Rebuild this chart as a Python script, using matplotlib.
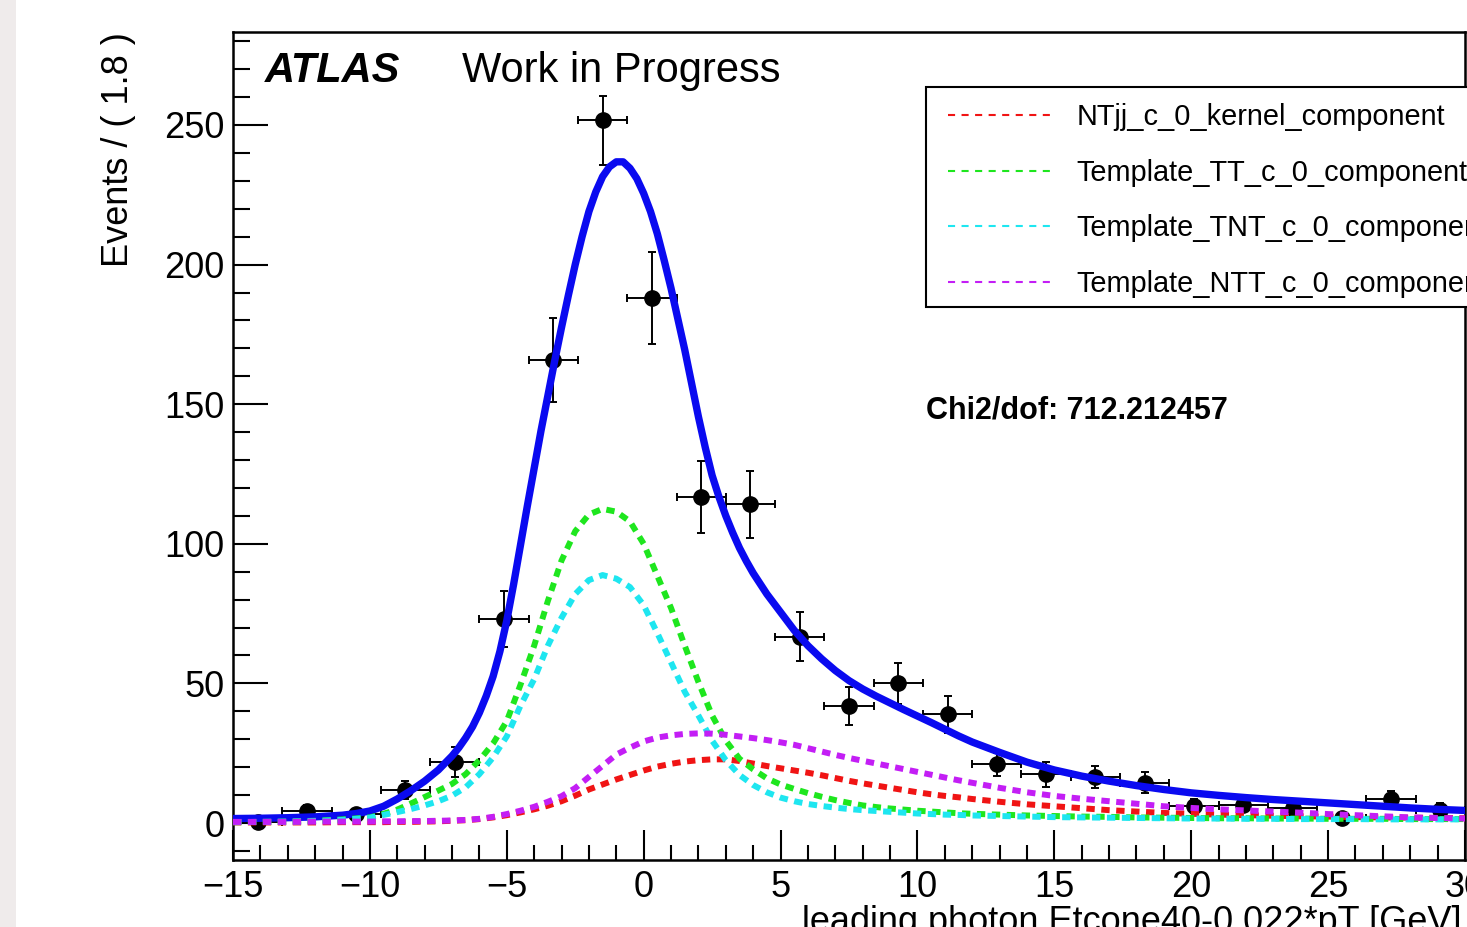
import matplotlib
matplotlib.use('Agg')
import matplotlib.pyplot as plt
from matplotlib.lines import Line2D
from matplotlib.patches import Rectangle
from matplotlib.ticker import MultipleLocator

plt.rcParams['font.family'] = ['Liberation Sans', 'DejaVu Sans']

# binned data (bin width 1.8)
bin_width = 1.8
bin_centers = [-14.1, -12.3, -10.5, -8.7, -6.9, -5.1, -3.3, -1.5, 0.3, 2.1, 3.9, 5.7,
               7.5, 9.3, 11.1, 12.9, 14.7, 16.5, 18.3, 20.1, 21.9, 23.7, 25.5, 27.3, 29.1]
events = [0.3, 4.3, 3.1, 11.8, 22.0, 73.1, 165.8, 251.8, 187.9, 116.8, 114.1, 66.7,
          41.9, 50.0, 39.0, 21.0, 17.5, 16.4, 14.4, 6.2, 6.4, 5.2, 1.7, 8.5, 4.6]
err_lo = [1.0, 2.0, 1.8, 3.3, 5.4, 9.9, 14.9, 16.0, 16.5, 12.8, 12.1, 8.7,
          6.7, 7.3, 6.6, 4.0, 4.5, 4.0, 3.8, 2.5, 2.5, 2.3, 1.5, 3.0, 2.5]
err_hi = [1.0, 2.0, 1.8, 3.3, 5.4, 9.9, 14.9, 8.6, 16.5, 12.8, 12.1, 8.7,
          6.7, 7.3, 6.6, 4.0, 4.5, 4.0, 3.8, 2.5, 2.5, 2.3, 1.5, 3.0, 2.5]

# total fit, sampled more finely around the peak
x_total = [-15, -14, -13, -12, -11, -10.5, -10, -9.5, -9, -8.5, -8, -7.5, -7, -6.75, -6.5, -6.25,
           -6, -5.75, -5.5, -5.25, -5, -4.75, -4.5, -4.25, -4, -3.75, -3.5, -3.25, -3, -2.75, -2.5, -2.25,
           -2, -1.75, -1.5, -1.25, -1, -0.75, -0.5, -0.25, 0, 0.25, 0.5, 0.75, 1, 1.25, 1.5, 1.75,
           2, 2.25, 2.5, 2.75, 3, 3.25, 3.5, 3.75, 4, 4.5, 5, 5.5, 6, 6.5, 7, 7.5, 8, 8.5, 9, 9.5,
           10, 10.5, 11, 11.5, 12, 13, 14, 15, 16, 17, 18, 19, 20, 21, 22, 23, 24, 25, 26, 27, 28, 29, 30]
total_fit = [1.6, 1.7, 1.9, 2.2, 2.8, 3.4, 4.3, 6.0, 8.6, 11.6, 15.0, 19.0, 24.0, 27.0, 30.5, 34.5,
             39.5, 45.5, 52.5, 61.5, 72.5, 85.5, 99.5, 113.5, 127.0, 140.5, 153.0, 165.5, 177.5, 189.0, 200.0, 210.0,
             219.0, 226.0, 231.5, 235.0, 236.8, 236.8, 234.5, 230.8, 225.5, 219.0, 211.0, 201.5, 191.5, 180.5, 169.5, 157.5,
             145.5, 134.5, 124.5, 116.8, 110.0, 104.0, 98.5, 93.8, 89.5, 82.0, 75.5, 69.0, 63.5, 58.8, 54.6, 51.0, 48.0, 45.4, 43.0, 40.6,
             38.3, 36.0, 33.6, 31.2, 29.0, 25.3, 21.8, 19.0, 16.8, 15.0, 13.4, 12.0, 10.8, 9.9, 9.1, 8.4, 7.8, 7.2, 6.6, 6.0, 5.4, 4.9, 4.5]

# fit components
x_fit = [-15, -14, -13, -12, -11, -10, -9.5, -9, -8.5, -8, -7.5, -7, -6.5, -6, -5.5, -5,
         -4.5, -4, -3.5, -3, -2.5, -2, -1.5, -1, -0.5, 0, 0.5, 1, 1.5, 2, 2.5, 3,
         3.5, 4, 4.5, 5, 5.5, 6, 6.5, 7, 7.5, 8, 8.5, 9, 9.5, 10, 10.5, 11, 11.5, 12,
         13, 14, 15, 16, 17, 18, 19, 20, 21, 22, 23, 24, 25, 26, 27, 28, 29, 30]
ntjj_kernel = [0.2, 0.2, 0.2, 0.2, 0.3, 0.3, 0.3, 0.4, 0.4, 0.5, 0.6, 0.8, 1.0, 1.4, 2.0, 2.8,
               3.8, 4.9, 6.2, 7.8, 9.8, 12.0, 13.8, 15.6, 17.2, 18.8, 20.2, 21.2, 22.0, 22.5, 22.8, 22.8,
               22.2, 21.3, 20.4, 19.6, 18.8, 18.0, 17.1, 16.1, 15.1, 14.2, 13.4, 12.6, 11.8, 11.0, 10.3, 9.7, 9.2, 8.6,
               7.6, 6.7, 6.0, 5.3, 4.6, 4.1, 3.6, 3.3, 3.0, 2.8, 2.6, 2.4, 2.3, 2.1, 2.0, 1.9, 1.8, 1.7]
template_tt = [0.3, 0.4, 0.5, 0.8, 1.3, 2.0, 3.3, 4.8, 7.0, 9.3, 11.6, 14.0, 17.5, 22.5, 28.5, 36.5,
               49.5, 63.5, 79.5, 94.0, 104.5, 110.5, 112.5, 111.5, 108.0, 100.0, 88.5, 77.0, 63.5, 50.5, 38.5, 29.5,
               23.0, 19.2, 16.0, 13.8, 12.2, 10.7, 9.4, 8.2, 7.2, 6.3, 5.7, 5.2, 4.8, 4.4, 4.1, 3.8, 3.5, 3.3,
               3.0, 2.7, 2.5, 2.3, 2.2, 2.0, 1.9, 1.8, 1.7, 1.7, 1.6, 1.6, 1.5, 1.5, 1.5, 1.4, 1.4, 1.4]
template_tnt = [0.3, 0.4, 0.5, 0.7, 1.1, 1.9, 2.9, 3.9, 5.0, 6.3, 7.8, 9.8, 12.8, 17.5, 23.5, 31.0,
                42.0, 51.5, 63.5, 73.5, 82.0, 87.0, 88.8, 87.5, 84.5, 78.0, 68.0, 57.5, 47.0, 38.5, 29.5, 22.5,
                17.2, 13.6, 11.0, 9.1, 7.8, 6.8, 6.1, 5.5, 5.0, 4.6, 4.3, 4.0, 3.7, 3.4, 3.2, 3.0, 2.9, 2.7,
                2.5, 2.3, 2.1, 2.0, 1.9, 1.8, 1.7, 1.6, 1.6, 1.5, 1.5, 1.4, 1.4, 1.4, 1.3, 1.3, 1.3, 1.3]
template_ntt = [0.4, 0.4, 0.4, 0.5, 0.5, 0.5, 0.6, 0.6, 0.7, 0.7, 0.8, 0.9, 1.1, 1.5, 2.2, 3.2,
                4.4, 5.8, 7.6, 9.6, 12.5, 16.5, 20.5, 24.5, 27.0, 29.2, 30.6, 31.4, 31.9, 32.1, 32.0, 31.6,
                31.0, 30.4, 29.7, 28.9, 28.0, 26.8, 25.6, 24.4, 23.3, 22.3, 21.3, 20.3, 19.3, 18.3, 17.3, 16.3, 15.3, 14.4,
                12.6, 11.0, 9.7, 8.7, 7.8, 6.9, 6.0, 5.4, 4.9, 4.5, 4.1, 3.7, 3.2, 2.8, 2.4, 2.0, 1.8, 1.6]

components = [
    (ntjj_kernel, '#f01414', 'NTjj_c_0_kernel_component'),
    (template_tt, '#1ee61e', 'Template_TT_c_0_component'),
    (template_tnt, '#1ee6f0', 'Template_TNT_c_0_component'),
    (template_ntt, '#c31ef5', 'Template_NTT_c_0_component'),
]

fig = plt.figure(figsize=(14.67, 9.27), dpi=100)
ax = fig.add_axes([233 / 1467, 1 - 860 / 927, 1232 / 1467, 828 / 927])

# light strip along the left edge
fig.patches.append(Rectangle((0, 0), 16 / 1467, 1, transform=fig.transFigure,
                             facecolor='#efebeb', edgecolor='none', zorder=0))

ax.errorbar(bin_centers, events, xerr=bin_width / 2, yerr=[err_lo, err_hi],
            fmt='o', color='black', ms=11, elinewidth=1.4, capsize=3.2, capthick=1.4, zorder=2)

ax.plot(x_total, total_fit, color='#0a0af0', lw=5.3, solid_joinstyle='round', zorder=3)
for values, color, label in components:
    ax.plot(x_fit, values, color=color, lw=4.3, dashes=(1.4, 1.1), zorder=4)

ax.set_xlim(-15, 30)
ax.set_ylim(-13.25, 283.3)

ax.xaxis.set_major_locator(MultipleLocator(5))
ax.xaxis.set_minor_locator(MultipleLocator(1))
ax.yaxis.set_major_locator(MultipleLocator(50))
ax.yaxis.set_minor_locator(MultipleLocator(10))
ax.tick_params(axis='x', which='major', direction='in', length=21.6, width=1.5, labelsize=26, pad=7)
ax.tick_params(axis='x', which='minor', direction='in', length=10.8, width=1.5)
ax.tick_params(axis='y', which='major', direction='in', length=25, width=1.5, labelsize=26, pad=6)
ax.tick_params(axis='y', which='minor', direction='in', length=12, width=1.5)
for spine in ax.spines.values():
    spine.set_linewidth(1.8)

fig.text(118 / 1467, 1 - 32 / 927, 'Events / ( 1.8 )', rotation=90, ha='center', va='top', fontsize=26)
fig.text(1462 / 1467, -5 / 927, 'leading photon Etcone40-0.022*pT [GeV]',
         ha='right', va='baseline', fontsize=26)

ax.text(0.026, 0.9396, 'ATLAS', transform=ax.transAxes, fontsize=30,
        fontweight='bold', fontstyle='italic', va='baseline')
ax.text(0.1859, 0.9396, 'Work in Progress', transform=ax.transAxes, fontsize=30, va='baseline')
ax.text(0.5625, 0.5338, 'Chi2/dof: 712.212457', transform=ax.transAxes, fontsize=22,
        fontweight='bold', va='baseline')

# legend box, running past the right edge
ax.add_patch(Rectangle((926 / 1467, 1 - 307 / 927), 620 / 1467, 220 / 927,
                       transform=fig.transFigure, facecolor='white', edgecolor='black',
                       lw=1.5, clip_on=False, zorder=5))
handles = [Line2D([], [], color=c, lw=1.5, dashes=(3.4, 3.1)) for _, c, _ in components]
labels = [lab for _, _, lab in components]
leg = ax.legend(handles, labels, loc='upper left', bbox_to_anchor=(948 / 1467, 1 - 103 / 927),
                bbox_transform=fig.transFigure, frameon=False, borderpad=0, borderaxespad=0,
                fontsize=20.8, handlelength=3.7, handletextpad=0.76, labelspacing=0.96)
leg.set_zorder(6)

fig.savefig('out.png', dpi=100)
